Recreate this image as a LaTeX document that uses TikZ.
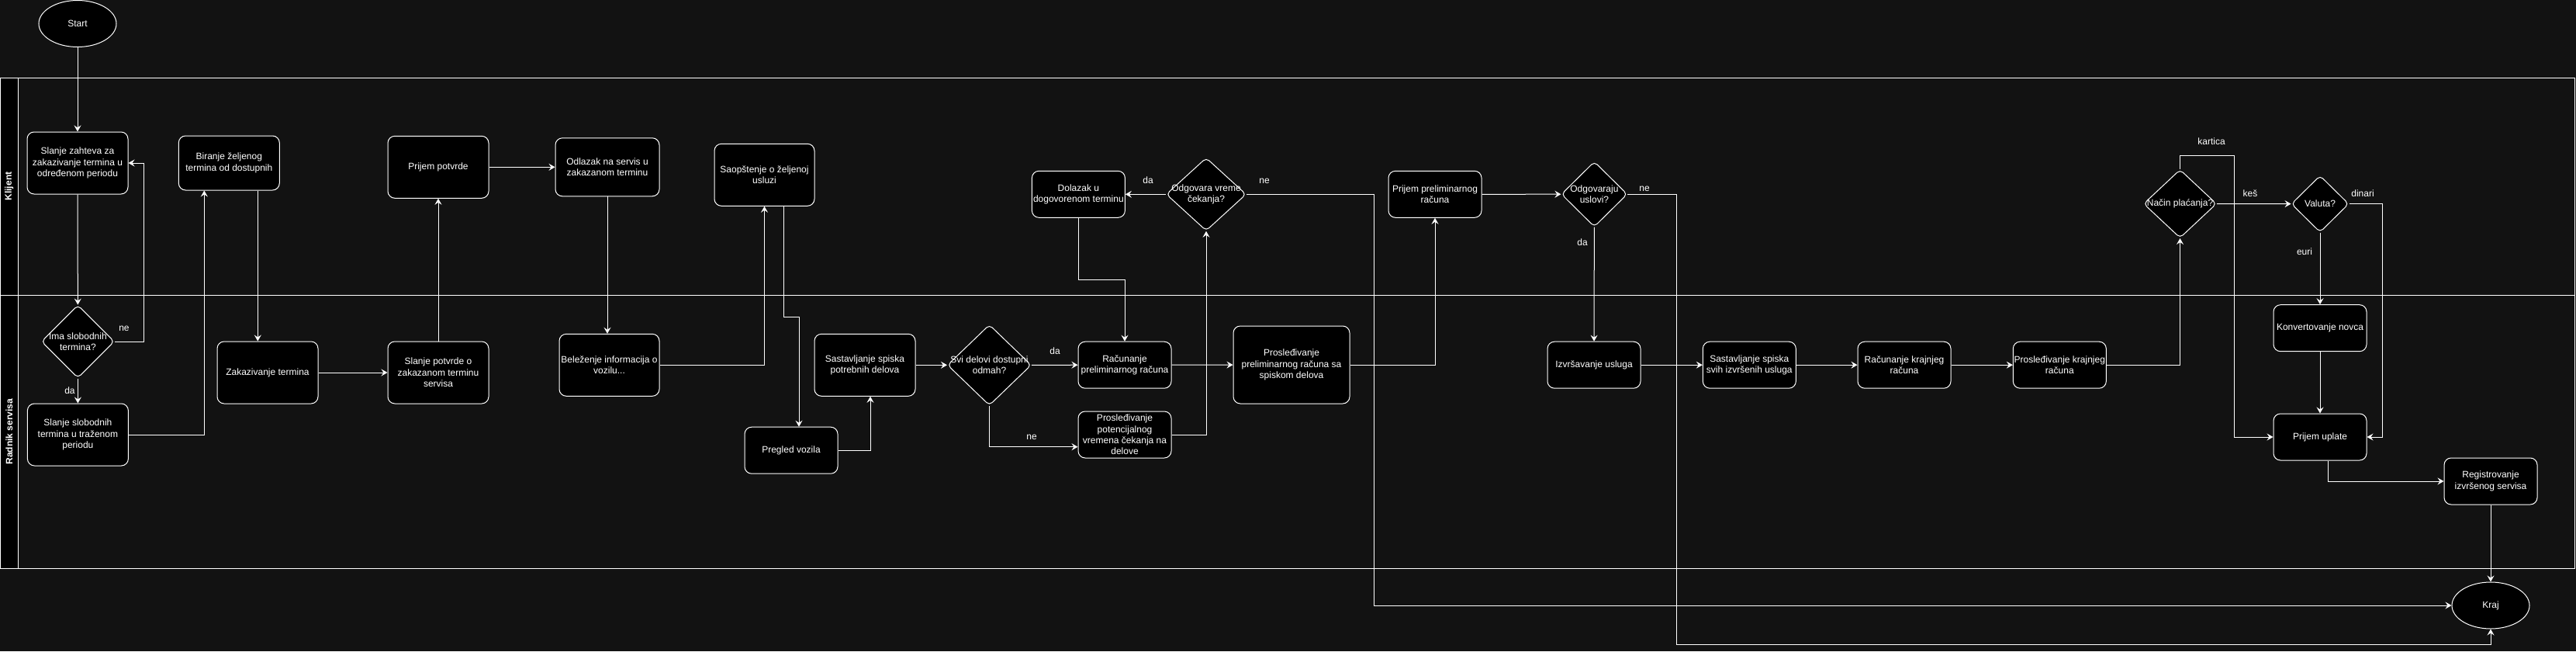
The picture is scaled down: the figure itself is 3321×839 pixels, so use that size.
\documentclass[tikz,border=0pt]{standalone}
\usepackage{fontspec}
\setmainfont{Liberation Sans}
\usepackage{tikz}
\usetikzlibrary{shapes.geometric,arrows.meta}
\definecolor{bg}{HTML}{121212}
\tikzset{
	box/.style 2 args={draw=white, fill=black, rounded corners=9pt, align=center, inner sep=0pt, line width=1pt, minimum width=#1, minimum height=#2},
	dec/.style 2 args={diamond, draw=white, fill=black, rounded corners=5pt, inner sep=0pt, line width=1pt, minimum width=#1, minimum height=#2},
	term/.style={ellipse, draw=white, fill=black, inner sep=0pt, line width=1pt, minimum width=100pt, minimum height=60pt},
	flow/.style={draw=white, line width=1pt, -{Stealth[length=8pt,width=9pt,inset=3pt]}},
	lane/.style={font=\fontsize{12}{14.4}\bfseries, rotate=90},
	lab/.style={align=center}
}
\begin{document}
\begin{tikzpicture}[x=1pt, y=-1pt, text=white, font=\fontsize{12}{14.4}\selectfont]
			\useasboundingbox (0,0) rectangle (3321,839);
			\fill[bg] (0,0) rectangle (3321,839);
			\fill[black] (0,100) rectangle (23.7,732);
			\draw[white, line width=1pt] (0,100) rectangle (3319,732);
			\draw[white, line width=1pt] (23.7,100) -- (23.7,732);
			\draw[white, line width=1pt] (0,380) -- (3319,380);
			\node[lane] (klijent) at (11.8,240) {Klijent};
			\node[lane] (radnik) at (11.8,556) {Radnik servisa};

			\node[term] (start) at (100,30.5) {Start};
			\node[term] (kraj) at (3211,780) {Kraj};

			\node[box={130pt}{80pt}] (z1) at (100,210) {Slanje zahteva za\\zakazivanje termina u\\određenom periodu};
			\node[box={130pt}{70pt}] (b1) at (295.3,210) {Biranje željenog\\termina od dostupnih};
			\node[box={130pt}{80pt}] (pp) at (565,215.3) {Prijem potvrde};
			\node[box={134pt}{75pt}] (od) at (783,215.3) {Odlazak na servis u\\zakazanom terminu};
			\node[box={129pt}{80pt}] (sa) at (985.5,225.3) {Saopštenje o željenoj\\usluzi};
			\node[box={120pt}{60pt}] (dl) at (1390.4,250.3) {Dolazak u\\dogovorenom terminu};
			\node[box={120pt}{60pt}] (prp) at (1850,250.3) {Prijem preliminarnog\\računa};

			\node[dec={94pt}{94pt}, label={[lab]center:Ima slobodnih\\termina?}] (q1) at (100.4,440) {};
			\node[box={130pt}{80pt}] (s1) at (100.4,560) {Slanje slobodnih\\termina u traženom\\periodu};
			\node[box={130pt}{80pt}] (zk) at (345,480) {Zakazivanje termina};
			\node[box={130pt}{80pt}] (sp) at (565,480) {Slanje potvrde o\\zakazanom terminu\\servisa};
			\node[box={129pt}{80pt}] (bl) at (785.5,470.3) {Beleženje informacija o\\vozilu...};
			\node[box={120pt}{60pt}] (pr) at (1020,580.2) {Pregled vozila};
			\node[box={130pt}{80pt}] (sk) at (1115,470.3) {Sastavljanje spiska\\potrebnih delova};
			\node[dec={108pt}{104pt}, label={[lab]center:Svi delovi dostupni\\odmah?}] (q2) at (1275.5,470.3) {};
			\node[box={120pt}{60pt}] (rp) at (1450,470.2) {Računanje\\preliminarnog računa};
			\node[box={120pt}{60pt}] (pt) at (1450,560) {Prosleđivanje\\potencijalnog\\vremena čekanja na\\delove};
			\node[dec={103pt}{94pt}, label={[lab]center:Odgovara vreme\\čekanja?}] (q3) at (1555,250.3) {};
			\node[box={150pt}{100pt}] (ps) at (1665,470) {Prosleđivanje\\preliminarnog računa sa\\spiskom delova};
			\node[dec={85pt}{84pt}, label={[lab]center:Odgovaraju\\uslovi?}] (q4) at (2055.4,250.2) {};
			\node[box={120pt}{60pt}] (iz) at (2055,470.2) {Izvršavanje usluga};
			\node[box={120pt}{60pt}] (sv) at (2255.3,470.2) {Sastavljanje spiska\\svih izvršenih usluga};
			\node[box={120pt}{60pt}] (rk) at (2455,470.2) {Računanje krajnjeg\\računa};
			\node[box={120pt}{60pt}] (pk) at (2655.3,470.2) {Prosleđivanje krajnjeg\\računa};
			\node[dec={94pt}{88pt}, label={[lab]center:Način plaćanja?}] (q5) at (2810.5,262.5) {};
			\node[dec={74pt}{73pt}, label={[lab]center:Valuta?}] (va) at (2991,262.7) {};
			\node[box={120pt}{60pt}] (kn) at (2991,422.7) {Konvertovanje novca};
			\node[box={120pt}{60pt}] (pu) at (2991,563) {Prijem uplate};
			\node[box={120pt}{60pt}] (rg) at (3211,620) {Registrovanje\\izvršenog servisa};

			\draw[flow] (start) -- (z1);
			\draw[flow] (z1) -- (q1);
			\draw[flow] (q1.east) -- ++(38,0) |- (z1.east);
			\draw[flow] (q1) -- (s1);
			\draw[flow] (s1.east) -| ([xshift=-32pt]b1.south);
			\draw[flow] ([xshift=37pt]b1.south) -- ([xshift=37pt]b1.south |- zk.north);
			\draw[flow] (zk) -- (sp);
			\draw[flow] (sp) -- (pp);
			\draw[flow] (pp) -- (od);
			\draw[flow] (od.south) -- (od.south |- bl.north);
			\draw[flow] (bl.east) -| (sa.south);
			\draw[flow] ([xshift=25pt]sa.south) -- ++(0,143) -| ([xshift=10pt]pr.north);
			\draw[flow] (pr.east) -| ([xshift=7pt]sk.south);
			\draw[flow] (sk) -- (q2);
			\draw[flow] (q2) -- (rp);
			\draw[flow] (q2.south) |- ([yshift=-15.7pt]pt.west);
			\draw[flow] (pt.east) -| (q3.south);
			\draw[flow] (q3) -- (dl);
			\draw[flow] (q3.east) -- ++(164,0) |- (kraj.west);
			\draw[flow] (dl.south) -- ++(0,80) -| (rp.north);
			\draw[flow] (rp) -- (ps);
			\draw[flow] (ps.east) -| (prp.south);
			\draw[flow] (prp) -- (q4);
			\draw[flow] (q4) -- (iz);
			\draw[flow] (q4.east) -- ++(62.7,0) -- ++(0,580) -| (kraj.south);
			\draw[flow] (iz) -- (sv);
			\draw[flow] (sv) -- (rk);
			\draw[flow] (rk) -- (pk);
			\draw[flow] (pk.east) -| (q5.south);
			\draw[flow] (q5.north) -- ++(0,-18) -| ([xshift=-50pt]pu.west) -- (pu.west);
			\draw[flow] (q5) -- (va);
			\draw[flow] (va) -- (kn);
			\draw[flow] (va.east) -- ++(43,0) |- (pu.east);
			\draw[flow] (kn) -- (pu);
			\draw[flow] ([xshift=10pt]pu.south) |- (rg.west);
			\draw[flow] (rg) -- (kraj);

			\foreach \n/\x/\y/\t in {ne1/160/423/ne, da1/90/503/da, da2/1360/452/da, ne2/1330/563/ne, da3/1480/232/da, ne3/1630/233/ne, ne4/2120/243/ne, da4/2040/312/da, kartica/2851/182/kartica, kes/2901/249/keš, dinari/3046/249/dinari, euri/2971/324/euri}
				\node (\n) at (\x,\y) {\t};
		\end{tikzpicture}
\end{document}
